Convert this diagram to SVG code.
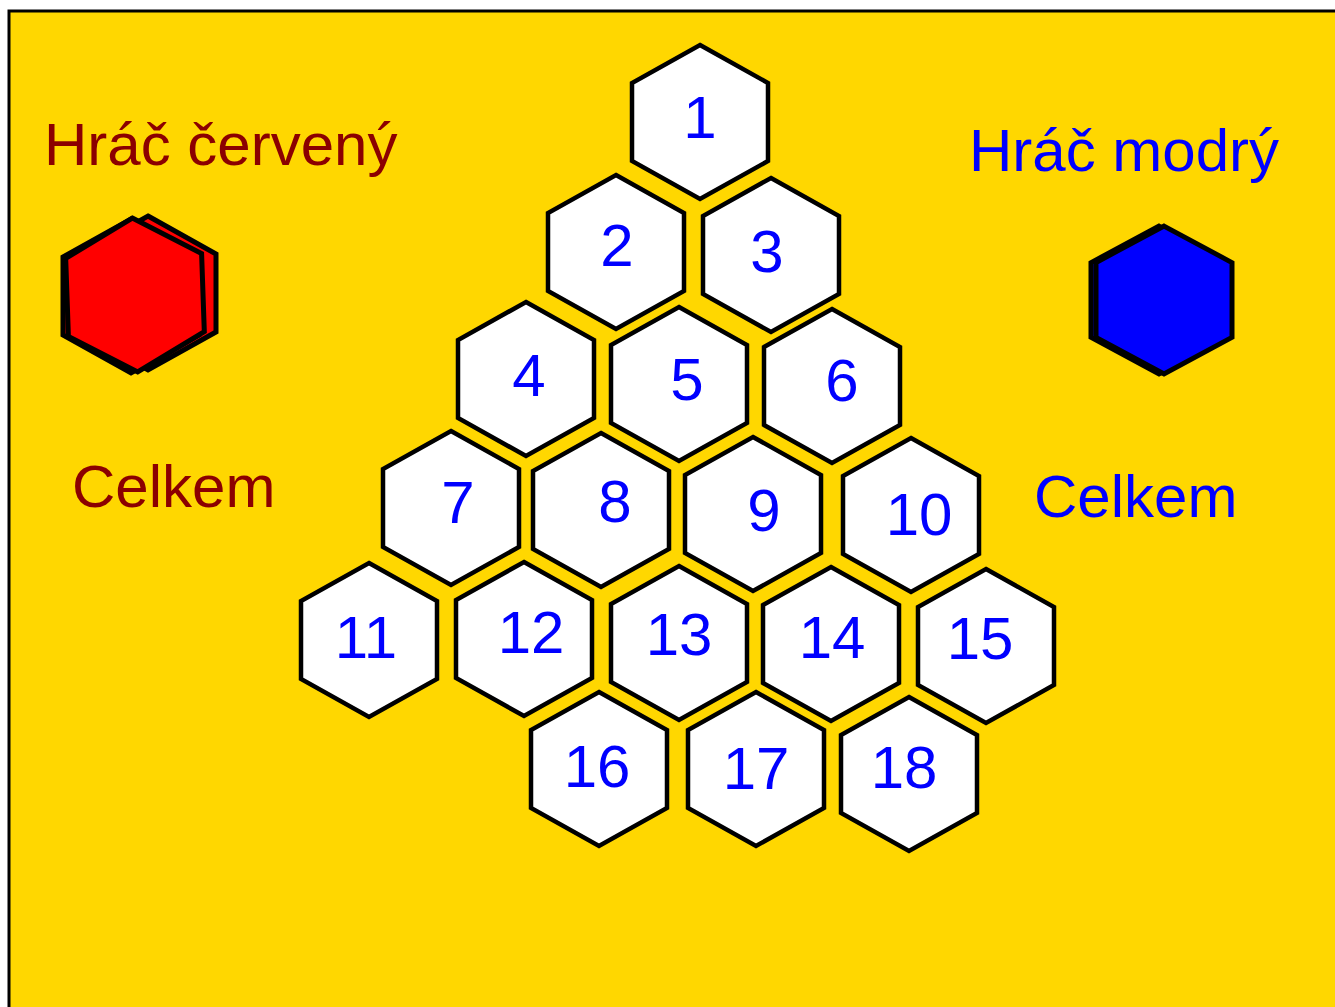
<svg xmlns="http://www.w3.org/2000/svg" xmlns:xlink="http://www.w3.org/1999/xlink" width="1335" height="1007" viewBox="0 0 1335 1007">
<style>
.hex{fill:#FFFFFF;stroke:#000;stroke-width:4.5;stroke-linejoin:miter}
.num{font-family:"Liberation Sans",Arial,sans-serif;font-size:60px;fill:#0000FF;text-anchor:middle}
.lbl{font-family:"Liberation Sans",Arial,sans-serif;font-size:60px}
.red{fill:#8B0000}
.blue{fill:#0000FF}
.tok{stroke:#000;stroke-width:5;stroke-linejoin:miter}
</style>
<defs>
<polygon id="h" points="0,-77 68,-39 68,39 0,77 -68,39 -68,-39"/>
</defs>
<rect id="board" x="9" y="11" width="1340" height="1010" fill="#FFD700" stroke="#000" stroke-width="3"/>
<g id="player-red">
<text class="lbl red" x="44" y="165">Hráč červený</text>
<g id="red-token">
<use href="#h" class="tok" fill="#FF0000" transform="translate(148,293)"/>
<use href="#h" class="tok" fill="#FF0000" transform="translate(131,296)"/>
<use href="#h" class="tok" fill="#FF0000" transform="translate(135,295) rotate(-2)"/>
</g>
<text class="lbl red" x="72" y="507">Celkem</text>
</g>
<g id="player-blue">
<text class="lbl blue" x="969" y="171">Hráč modrý</text>
<g id="blue-token">
<use href="#h" class="tok" fill="#0000FF" transform="translate(1159,300) scale(1,0.96)"/>
<use href="#h" class="tok" fill="#0000FF" transform="translate(1164,300) scale(1,0.96)"/>
</g>
<text class="lbl blue" x="1034" y="517">Celkem</text>
</g>
<g id="connectors"></g>
<g id="n1"><use href="#h" class="hex" transform="translate(700,122)"/><text class="num" x="700" y="138">1</text></g>
<g id="n2"><use href="#h" class="hex" transform="translate(616,252)"/><text class="num" x="617" y="266">2</text></g>
<g id="n3"><use href="#h" class="hex" transform="translate(771,255)"/><text class="num" x="767" y="272">3</text></g>
<g id="n4"><use href="#h" class="hex" transform="translate(526,379)"/><text class="num" x="529" y="396">4</text></g>
<g id="n5"><use href="#h" class="hex" transform="translate(679,384)"/><text class="num" x="687" y="400">5</text></g>
<g id="n6"><use href="#h" class="hex" transform="translate(832,386)"/><text class="num" x="842" y="401">6</text></g>
<g id="n7"><use href="#h" class="hex" transform="translate(451,508)"/><text class="num" x="458" y="523">7</text></g>
<g id="n8"><use href="#h" class="hex" transform="translate(601,510)"/><text class="num" x="615" y="522">8</text></g>
<g id="n9"><use href="#h" class="hex" transform="translate(753,514)"/><text class="num" x="764" y="531">9</text></g>
<g id="n10"><use href="#h" class="hex" transform="translate(911,515)"/><text class="num" x="919" y="535">10</text></g>
<g id="n11"><use href="#h" class="hex" transform="translate(369,640)"/><text class="num" x="366" y="658">11</text></g>
<g id="n12"><use href="#h" class="hex" transform="translate(524,639)"/><text class="num" x="531" y="653">12</text></g>
<g id="n13"><use href="#h" class="hex" transform="translate(679,643)"/><text class="num" x="679" y="655">13</text></g>
<g id="n14"><use href="#h" class="hex" transform="translate(831,644)"/><text class="num" x="832" y="658">14</text></g>
<g id="n15"><use href="#h" class="hex" transform="translate(986,646)"/><text class="num" x="980" y="659">15</text></g>
<g id="n16"><use href="#h" class="hex" transform="translate(599,769)"/><text class="num" x="597" y="787">16</text></g>
<g id="n17"><use href="#h" class="hex" transform="translate(756,769)"/><text class="num" x="756" y="789">17</text></g>
<g id="n18"><use href="#h" class="hex" transform="translate(909,774)"/><text class="num" x="904" y="788">18</text></g>
</svg>
